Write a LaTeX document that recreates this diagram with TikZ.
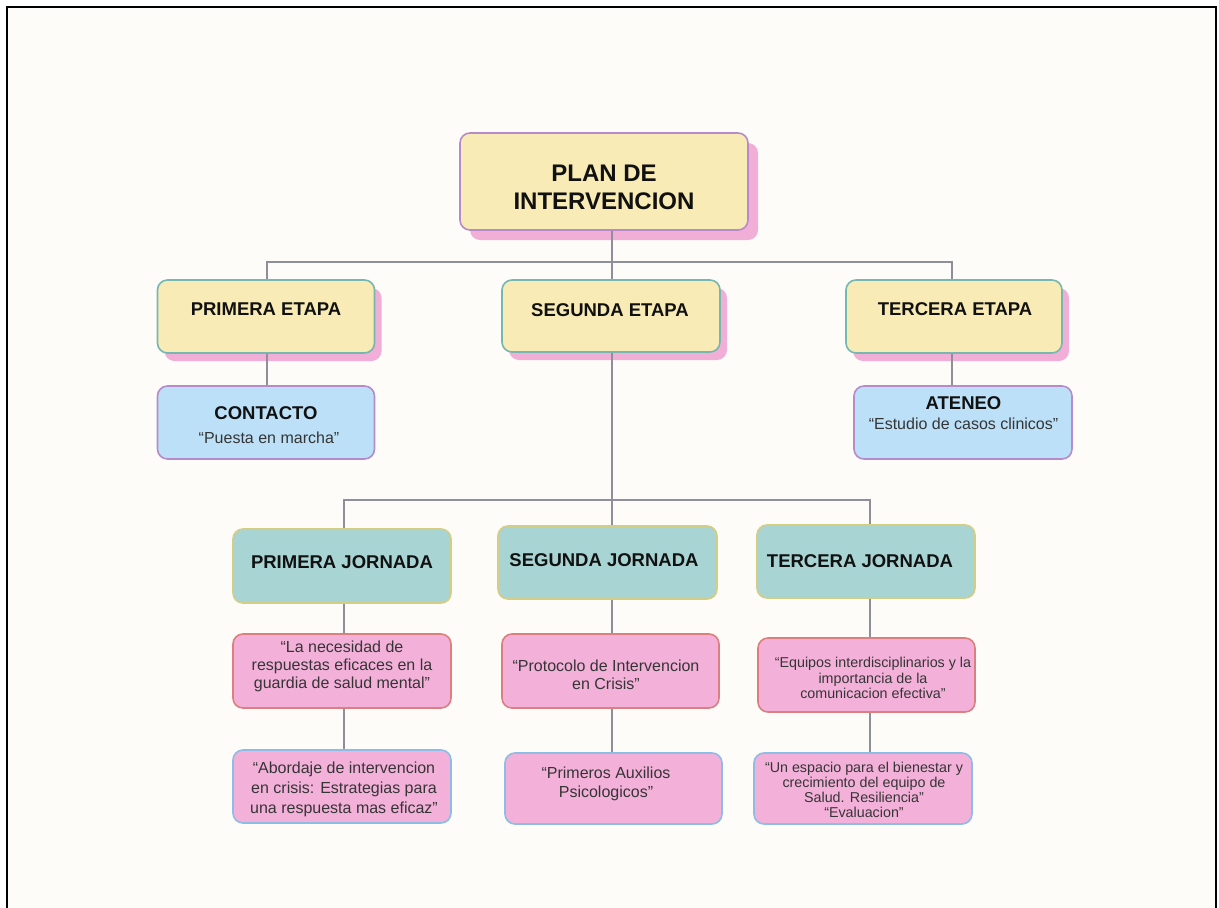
\documentclass[tikz,border=0pt]{standalone}
\usepackage{fontspec}
\setmainfont{Liberation Sans}
\usetikzlibrary{shadows}
\definecolor{bgc}{HTML}{FDFCF8}
\definecolor{yel}{HTML}{F9EBB5}
\definecolor{purp}{HTML}{B78BC9}
\definecolor{tealb}{HTML}{76B7B2}
\definecolor{shpink}{HTML}{F1AFD8}
\definecolor{lblue}{HTML}{BCE0F7}
\definecolor{jfill}{HTML}{A9D4D4}
\definecolor{jbord}{HTML}{D3CD86}
\definecolor{pfill}{HTML}{F3B1DA}
\definecolor{rbord}{HTML}{DD7F7F}
\definecolor{bbord}{HTML}{8DBDE6}
\definecolor{linec}{HTML}{8F8F99}
\definecolor{txt}{HTML}{111111}
\tikzset{
  box/.style={rectangle, rounded corners=10pt, line width=1.6pt, inner sep=0pt},
  mainbox/.style={box, fill=yel, draw=purp, general shadow={fill=shpink, shadow xshift=10pt, shadow yshift=-10pt}},
  etapabox/.style={box, fill=yel, draw=tealb, general shadow={fill=shpink, shadow xshift=7pt, shadow yshift=-8pt}},
  bluebox/.style={box, fill=lblue, draw=purp},
  jornbox/.style={box, fill=jfill, draw=jbord},
  pinkred/.style={box, fill=pfill, draw=rbord},
  pinkblue/.style={box, fill=pfill, draw=bbord},
  conn/.style={draw=linec, line width=1.5pt},
  ttl/.style={text=txt, font=\bfseries\fontsize{18.5}{22}\selectfont, inner sep=0pt},
  sub/.style={text=txt!85, font=\fontsize{16}{18}\selectfont, inner sep=0pt, align=center},
}
\begin{document}
\begin{tikzpicture}[x=1pt, y=-1pt]
\useasboundingbox (0,0) rectangle (1219,908);
\fill[white] (0,0) rectangle (1219,908);
\fill[bgc] (7,7) rectangle (1216,908);
\draw[black, line width=2pt] (7,908) -- (7,7) -- (1216,7) -- (1216,908);

% coordinates for connector columns
\coordinate (hub1) at (612,262);
\coordinate (hub2) at (612,500);
\coordinate (colA) at (267,0);
\coordinate (colC) at (952,0);
\coordinate (col1) at (344,0);
\coordinate (col2) at (612,0);
\coordinate (col3) at (870,0);

% boxes
\node[mainbox, minimum width=288pt, minimum height=97pt] (main) at (604,181.5) {};
\node[etapabox, minimum width=217pt, minimum height=73pt] (e1) at (266,316.5) {};
\node[etapabox, minimum width=218pt, minimum height=72pt] (e2) at (611,316) {};
\node[etapabox, minimum width=216pt, minimum height=73pt] (e3) at (954,316.5) {};
\node[bluebox, minimum width=217pt, minimum height=73pt] (c1) at (266,422.5) {};
\node[bluebox, minimum width=218pt, minimum height=73pt] (a3) at (963,422.5) {};

\node[jornbox, minimum width=218pt, minimum height=74pt] (j1) at (342,566) {};
\node[jornbox, minimum width=219pt, minimum height=73pt] (j2) at (607.5,562.5) {};
\node[jornbox, minimum width=218pt, minimum height=73pt] (j3) at (866,561.5) {};

\node[pinkred, minimum width=218pt, minimum height=74pt] (p1) at (342,671) {};
\node[pinkblue, minimum width=218pt, minimum height=73pt] (q1) at (342,786.5) {};
\node[pinkred, minimum width=217pt, minimum height=74pt] (p2) at (610.5,671) {};
\node[pinkblue, minimum width=217pt, minimum height=71pt] (q2) at (613.5,788.5) {};
\node[pinkred, minimum width=217pt, minimum height=74pt] (p3) at (866.5,675) {};
\node[pinkblue, minimum width=218pt, minimum height=71pt] (q3) at (863,788.5) {};

% connectors
\draw[conn] (main.south -| hub1) -- (e2.north -| hub1);
\draw[conn] (e1.north -| colA) -- (hub1 -| colA) -- (hub1 -| colC) -- (e3.north -| colC);
\draw[conn] (e1.south -| colA) -- (c1.north -| colA);
\draw[conn] (e3.south -| colC) -- (a3.north -| colC);
\draw[conn] (e2.south -| hub2) -- (hub2);
\draw[conn] (j1.north -| col1) -- (hub2 -| col1) -- (hub2 -| col3) -- (j3.north -| col3);
\draw[conn] (hub2) -- (j2.north -| col2);
\draw[conn] (j1.south -| col1) -- (p1.north -| col1);
\draw[conn] (p1.south -| col1) -- (q1.north -| col1);
\draw[conn] (j2.south -| col2) -- (p2.north -| col2);
\draw[conn] (p2.south -| col2) -- (q2.north -| col2);
\draw[conn] (j3.south -| col3) -- (p3.north -| col3);
\draw[conn] (p3.south -| col3) -- (q3.north -| col3);

% texts
\node[text=txt, font=\bfseries\fontsize{24}{28}\selectfont, align=center, inner sep=0pt] (mt) at (604,187) {PLAN DE\\INTERVENCION};
\node[ttl] (e1t) at (266,309) {PRIMERA ETAPA};
\node[ttl] (e2t) at (610,310) {SEGUNDA ETAPA};
\node[ttl] (e3t) at (955,309) {TERCERA ETAPA};
\node[ttl] (c1t) at (266,413) {CONTACTO};
\node[sub] (c1s) at (269,438) {“Puesta en marcha”};
\node[ttl] (a3t) at (963.5,403) {ATENEO};
\node[sub] (a3s) at (963.5,424) {“Estudio de casos clinicos”};

\node[ttl] (j1t) at (342,562) {PRIMERA JORNADA};
\node[ttl] (j2t) at (604,560) {SEGUNDA JORNADA};
\node[ttl] (j3t) at (860,561) {TERCERA JORNADA};

\node[sub, font=\fontsize{16}{18}\selectfont] (p1t) at (342,666) {“La necesidad de\\respuestas eficaces en la\\guardia de salud mental”};
\node[sub, font=\fontsize{16}{20}\selectfont] (q1t) at (344,789) {“Abordaje de intervencion\\en crisis: Estrategias para\\una respuesta mas eficaz”};
\node[sub, font=\fontsize{16}{18}\selectfont] (p2t) at (606,675) {“Protocolo de Intervencion\\en Crisis”};
\node[sub, font=\fontsize{16}{19}\selectfont] (q2t) at (606,783.5) {“Primeros Auxilios\\Psicologicos”};
\node[sub, font=\fontsize{14.3}{15.5}\selectfont] (p3t) at (873,678) {“Equipos interdisciplinarios y la\\importancia de la\\comunicacion efectiva”};
\node[sub, font=\fontsize{14.3}{15}\selectfont] (q3t) at (864,790) {“Un espacio para el bienestar y\\crecimiento del equipo de\\Salud. Resiliencia”\\“Evaluacion”};
\end{tikzpicture}
\end{document}
